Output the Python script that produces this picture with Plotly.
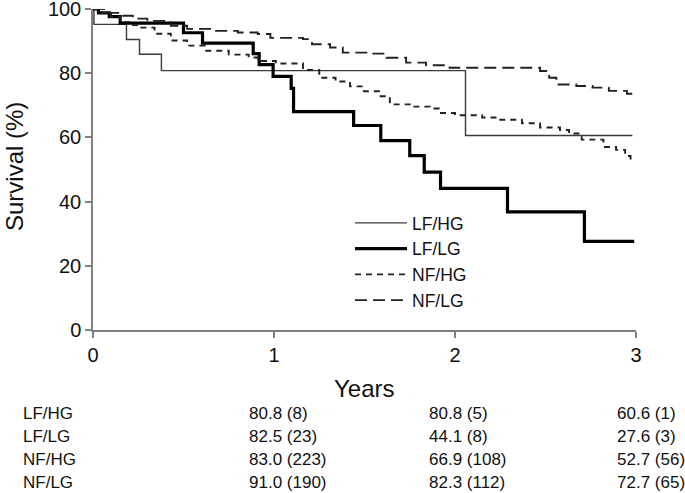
import plotly.graph_objects as go

# ---- data ----
lfhg_t = [0, 0.005, 0.185, 0.257, 0.378, 2.058, 2.98]
lfhg_s = [100, 95.2, 90.5, 85.9, 80.8, 60.6, 60.6]

lflg_t = [0, 0.03, 0.09, 0.15, 0.50, 0.605, 0.885, 0.918, 0.995, 1.095, 1.108,
          1.44, 1.59, 1.75, 1.83, 1.92, 2.29, 2.715, 2.99]
lflg_s = [100, 98.8, 97.6, 95.6, 92.6, 89.4, 86.1, 82.7, 79.0, 75.3, 68.0,
          63.7, 59.0, 54.3, 49.2, 44.1, 36.8, 27.6, 27.6]

nfhg_t = [0, 0.05, 0.10, 0.15, 0.20, 0.25, 0.34, 0.43, 0.52, 0.62, 0.75, 0.86, 0.91,
          1.01, 1.16, 1.25, 1.34, 1.42, 1.49, 1.58, 1.64, 1.75, 1.86, 1.91, 2.0,
          2.15, 2.25, 2.37, 2.47, 2.58, 2.63, 2.70, 2.82, 2.89, 2.94, 2.97, 2.99]
nfhg_s = [100, 98.8, 97.5, 96.0, 95.0, 94.2, 92.3, 90.2, 88.6, 87.0, 85.8, 84.9, 83.8,
          83.0, 81.0, 78.6, 77.4, 75.9, 74.4, 72.8, 70.3, 69.6, 69.0, 67.6, 66.9,
          66.2, 65.5, 64.4, 63.1, 62.3, 61.2, 59.3, 57.0, 56.1, 54.2, 52.7, 52.7]

nflg_t = [0, 0.08, 0.15, 0.22, 0.30, 0.43, 0.52, 0.67, 0.80, 0.91, 0.98, 1.16, 1.21,
          1.31, 1.38, 1.53, 1.62, 1.73, 1.84, 1.97, 2.43, 2.47, 2.52, 2.56, 2.67,
          2.76, 2.85, 2.95, 2.98, 2.99]
nflg_s = [100, 98.8, 97.9, 97.0, 96.3, 94.8, 93.8, 93.2, 92.7, 92.2, 91.0, 90.6, 89.0,
          88.0, 86.4, 86.1, 84.8, 83.3, 82.5, 81.7, 81.7, 80.7, 78.6, 76.5, 76.0,
          75.5, 74.5, 73.6, 72.7, 72.7]

groups = ["LF/HG", "LF/LG", "NF/HG", "NF/LG"]
year1 = ["80.8 (8)", "82.5 (23)", "83.0 (223)", "91.0 (190)"]
year2 = ["80.8 (5)", "44.1 (8)", "66.9 (108)", "82.3 (112)"]
year3 = ["60.6 (1)", "27.6 (3)", "52.7 (56)", "72.7 (65)"]

x_ticks = [0, 1, 2, 3]
y_ticks = [0, 20, 40, 60, 80, 100]

# ---- layout geometry (page pixels; body margin removed below) ----
W, H = 685, 493
ML, MT = 93, 9
PLOT_R, PLOT_B = 636, 330
MR, MB = W - PLOT_R, H - PLOT_B
PW, PH = W - ML - MR, H - MT - MB

FONT = "Liberation Sans, Arial, sans-serif"
fig = go.Figure()

series = [
    (lfhg_t, lfhg_s, dict(color="#3a3a3a", width=1.4, dash="solid")),
    (lflg_t, lflg_s, dict(color="#000000", width=3.2, dash="solid")),
    (nfhg_t, nfhg_s, dict(color="#222222", width=1.9, dash="6px,5px")),
    (nflg_t, nflg_s, dict(color="#222222", width=1.9, dash="12px,6px")),
]
for name, (t, s, ln) in zip(groups, series):
    fig.add_trace(go.Scatter(x=t, y=s, mode="lines", name=name,
                             line=dict(shape="hv", **ln)))

def px(p):
    return (p - ML) / PW

def py(p):
    return (PLOT_B - p) / PH

row_y = [413.3, 436.3, 459.3, 482.0]
col_x = [20.7, 247.3, 426.7, 615.0]
for i, g in enumerate(groups):
    for cx, txt in zip(col_x, [g, year1[i], year2[i], year3[i]]):
        fig.add_annotation(x=px(cx), y=py(row_y[i]),
                           xref="paper", yref="paper", text=txt, showarrow=False,
                           xanchor="left", yanchor="middle",
                           font=dict(family=FONT, size=17, color="#111111"))

# axis titles
fig.add_annotation(x=px(364), y=py(388), xref="paper", yref="paper", text="Years",
                   showarrow=False, xanchor="center", yanchor="middle",
                   font=dict(family=FONT, size=24, color="#111111"))
fig.add_annotation(x=px(14), y=py(167), xref="paper", yref="paper", text="Survival (%)",
                   showarrow=False, xanchor="center", yanchor="middle", textangle=-90,
                   font=dict(family=FONT, size=24, color="#111111"))

fig.update_layout(
    width=W, height=H,
    margin=dict(l=ML, r=MR, t=MT, b=MB, autoexpand=False),
    paper_bgcolor="white", plot_bgcolor="white",
    font=dict(family=FONT, color="#111111"),
    showlegend=True,
    legend=dict(x=px(350), y=py(205), xanchor="left", yanchor="top",
                bgcolor="rgba(0,0,0,0)", font=dict(size=17.5, family=FONT),
                itemwidth=52, tracegroupgap=0),
    xaxis=dict(range=[0, 3], tickvals=x_ticks, showgrid=False, zeroline=False,
               showline=True, linecolor="#808080", linewidth=1.5,
               ticks="outside", ticklen=6, tickcolor="#808080", tickwidth=1.5,
               ticklabeloverflow="allow", automargin=False,
               tickfont=dict(size=20, family=FONT)),
    yaxis=dict(range=[0, 100], tickvals=y_ticks, showgrid=False, zeroline=False,
               showline=True, linecolor="#808080", linewidth=1.5,
               ticks="outside", ticklen=6, tickcolor="#808080", tickwidth=1.5,
               ticklabeloverflow="allow", automargin=False,
               tickfont=dict(size=20, family=FONT)),
)

fig.write_html("out.html", config={"displayModeBar": False},
               post_script="document.body.style.margin='0';document.body.style.overflow='hidden';")
